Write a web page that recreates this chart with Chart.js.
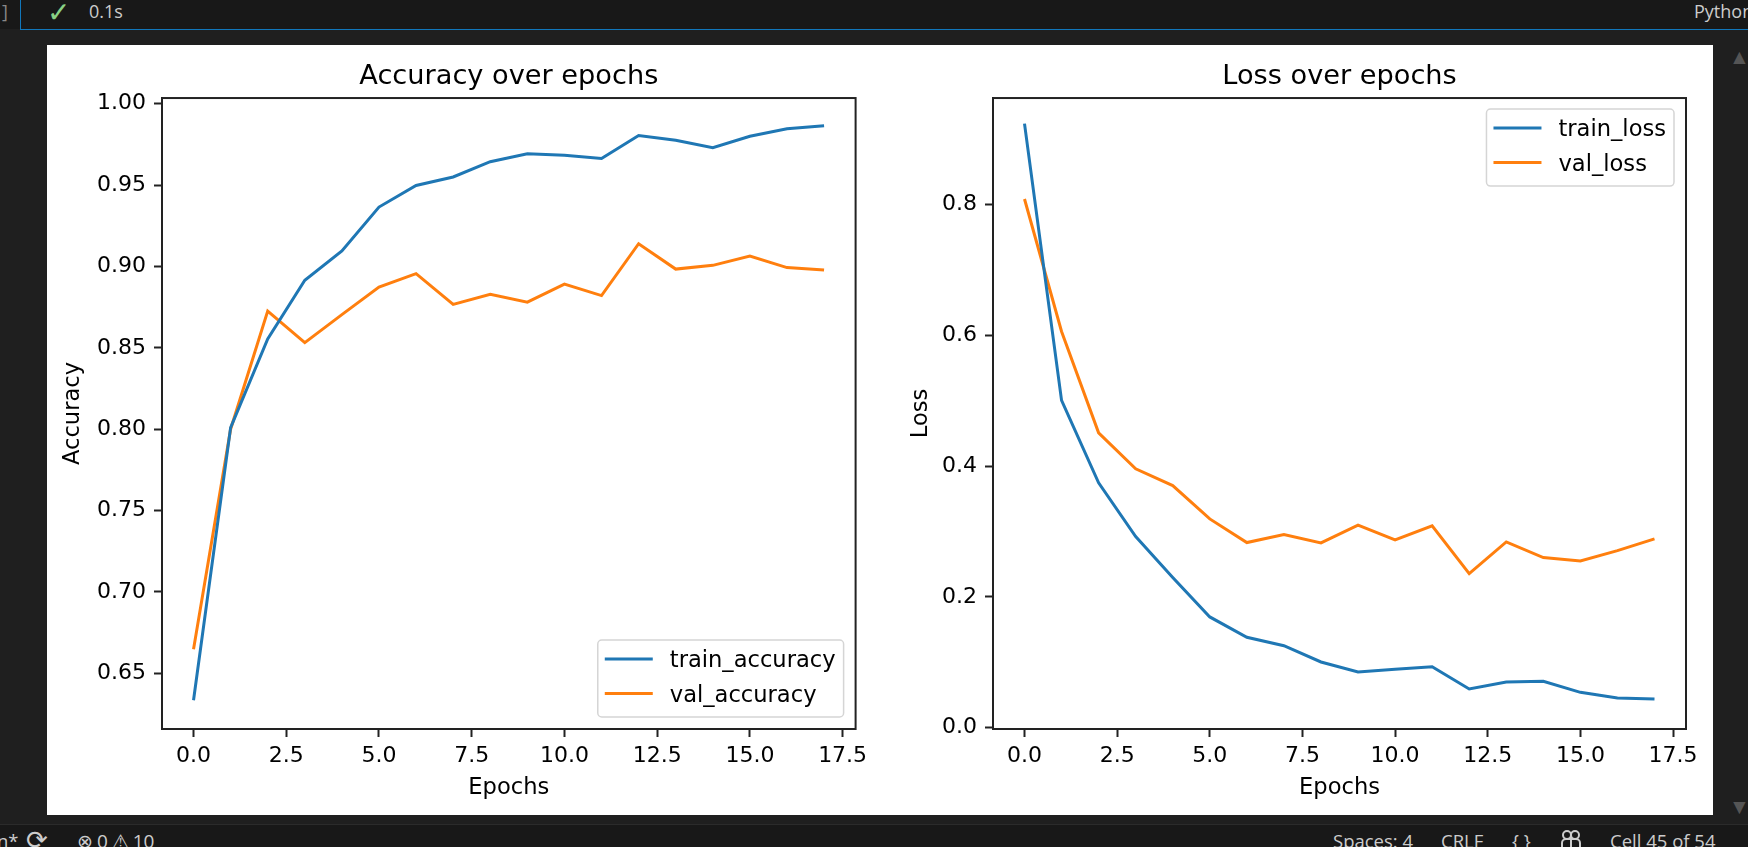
<!DOCTYPE html>
<html>
<head>
<meta charset="utf-8">
<title>Accuracy and loss over epochs</title>
<script src="https://cdn.jsdelivr.net/npm/chart.js@4"></script>
<style>
  html, body { margin: 0; padding: 0; width: 1748px; height: 847px; overflow: hidden; background: #1f1f1f; }
  body { position: relative; font-family: "Open Sans", "Noto Sans", sans-serif; color: #cccccc; font-size: 18.5px; }
  .abs { position: absolute; white-space: nowrap; }
  #topbar { left: 0; top: 0; width: 1748px; height: 29px; background: #181818; }
  #cellLine { left: 20px; top: 0; width: 1728px; height: 29px; border-left: 1px solid #1177bb; border-bottom: 1px solid #1177bb; box-sizing: content-box; }
  #statusbar { left: 0; top: 824px; width: 1748px; height: 23px; background: #181818; border-top: 1px solid #2b2b2b; }
  #panel { left: 47px; top: 45px; width: 1666px; height: 770px; background: #fff; }
  canvas { position: absolute; top: 45px; width: 833px; height: 770px; filter: blur(0.4px); }
  #accChart { left: 47px; }
  #lossChart { left: 880px; }
  .arrow { color: #555; font-size: 21px; left: 1729px; }
  .top { top: -1px; font-size: 18px; }
  .status { top: 828px; }
</style>
</head>
<body>
<div class="abs" id="topbar"></div>
<div class="abs" id="cellLine"></div>
<div class="abs top" style="left:2px;color:#888">]</div>
<div class="abs" style="left:47px;top:-8px;color:#89d185;font-size:28px;font-weight:300">&#10003;</div>
<div class="abs top" style="left:89px">0.1s</div>
<div class="abs top" style="left:1694px">Python</div>
<div class="abs" id="panel"></div>
<canvas id="accChart" width="833" height="770"></canvas>
<canvas id="lossChart" width="833" height="770"></canvas>
<div class="abs arrow" style="top:42px">&#9650;</div>
<div class="abs arrow" style="top:792px">&#9660;</div>
<div class="abs" id="statusbar"></div>
<div class="abs status" style="left:-3px">n*</div>
<div class="abs" style="left:26px;top:821px;font-size:26px">&#10227;</div>
<div class="abs status" style="left:77px;word-spacing:-1px;font-size:19px">&#8855;&nbsp;0&nbsp;&#9888;&nbsp;10</div>
<div class="abs status" style="left:1333px">Spaces: 4</div>
<div class="abs status" style="left:1441px">CRLF</div>
<div class="abs status" style="left:1512px">{ }</div>
<svg class="abs" style="left:1559px;top:829px" width="24" height="20" viewBox="0 0 24 20" fill="none" stroke="#cccccc" stroke-width="2">
  <circle cx="8" cy="6" r="4"/><circle cx="16" cy="6" r="4"/><rect x="3" y="10" width="18" height="12" rx="4"/><path d="M12 10v10"/>
</svg>
<div class="abs status" style="left:1610px">Cell 45 of 54</div>

<script>
const epochs = [0, 1, 2, 3, 4, 5, 6, 7, 8, 9, 10, 11, 12, 13, 14, 15, 16, 17];

const trainAccuracy = [0.6335, 0.801, 0.8555, 0.8915, 0.9095, 0.9365, 0.9498, 0.955, 0.9644, 0.9693, 0.9684, 0.9664, 0.9805, 0.9775, 0.973, 0.98, 0.9846, 0.9865];
const valAccuracy = [0.6648, 0.80, 0.8726, 0.8532, 0.8704, 0.8873, 0.8956, 0.8767, 0.8829, 0.8781, 0.8892, 0.8821, 0.914, 0.8984, 0.9007, 0.9064, 0.8993, 0.8978];
const trainLoss = [0.9239, 0.5005, 0.3745, 0.2923, 0.2296, 0.1694, 0.1383, 0.1254, 0.1005, 0.0852, 0.0893, 0.0933, 0.0592, 0.0699, 0.0709, 0.0541, 0.0454, 0.0439];
const valLoss = [0.8086, 0.606, 0.451, 0.3959, 0.3703, 0.3193, 0.2831, 0.2953, 0.2826, 0.3097, 0.2871, 0.3087, 0.2357, 0.2841, 0.2602, 0.255, 0.2708, 0.2887];

const xTicks = [0, 2.5, 5, 7.5, 10, 12.5, 15, 17.5];
const accuracyTicks = [0.65, 0.70, 0.75, 0.80, 0.85, 0.90, 0.95, 1.00];
const lossTicks = [0, 0.2, 0.4, 0.6, 0.8];

const BLUE = '#1f77b4';
const ORANGE = '#ff7f0e';
const FONT = 'DejaVu Sans';
const TICK_SIZE = 22;
const LABEL_SIZE = 22.6;

// top and right spines, plus the framed matplotlib style legend
const framePlugin = {
  id: 'frame',
  afterDraw(chart, args, opts) {
    const { ctx, chartArea: a } = chart;
    ctx.save();
    ctx.strokeStyle = '#222';
    ctx.lineWidth = 2;
    ctx.strokeRect(a.left, a.top, a.right - a.left, a.bottom - a.top);

    // legend box
    const sets = chart.data.datasets;
    ctx.font = LABEL_SIZE + 'px "' + FONT + '"';
    const textW = Math.max(...sets.map(d => ctx.measureText(d.label).width));
    const w = 7 + 48 + 17 + textW + 8;
    const h = 77;
    const x = a.right - 12 - w;
    const y = opts.corner === 'lower right' ? a.bottom - 12 - h : a.top + 11;
    ctx.beginPath();
    ctx.roundRect(x, y, w, h, 4);
    ctx.fillStyle = 'rgba(255,255,255,0.8)';
    ctx.fill();
    ctx.strokeStyle = '#d5d5d5';
    ctx.lineWidth = 1.5;
    ctx.stroke();

    sets.forEach((d, i) => {
      const rowY = y + 19 + i * 34.5;
      ctx.strokeStyle = d.borderColor;
      ctx.lineWidth = 3;
      ctx.beginPath();
      ctx.moveTo(x + 7, rowY);
      ctx.lineTo(x + 55, rowY);
      ctx.stroke();
      ctx.fillStyle = '#000';
      ctx.textBaseline = 'middle';
      ctx.fillText(d.label, x + 72, rowY + 2.5);
    });
    ctx.restore();
  }
};

function points(values) {
  return values.map((v, i) => ({ x: epochs[i], y: v }));
}

function lineSet(label, values, color) {
  return {
    label: label,
    data: points(values),
    borderColor: color,
    borderWidth: 3,
    pointRadius: 0,
    tension: 0,
    fill: false
  };
}

function makeChart(id, cfg) {
  return new Chart(document.getElementById(id), {
    type: 'line',
    data: { datasets: cfg.datasets },
    plugins: [framePlugin],
    options: {
      responsive: false,
      animation: false,
      layout: { padding: { left: 0, top: 0, right: cfg.rightPad, bottom: 0 } },
      plugins: {
        legend: { display: false },
        tooltip: { enabled: false },
        frame: { corner: cfg.corner },
        title: {
          display: true,
          text: cfg.title,
          fullSize: false,
          color: '#000',
          font: { family: FONT, size: 27.2, weight: 'normal' },
          padding: { top: 15.7, bottom: 4.7 }
        }
      },
      scales: {
        x: {
          type: 'linear',
          min: -0.85,
          max: 17.85,
          afterBuildTicks: s => { s.ticks = xTicks.map(v => ({ value: v })); },
          afterFit: s => { s.height = 86; },
          grid: { drawOnChartArea: false, tickColor: '#222', tickLength: 8, tickWidth: 2 },
          border: { color: '#222', width: 2 },
          ticks: {
            color: '#000',
            padding: 6,
            maxRotation: 0,
            autoSkip: false,
            font: { family: FONT, size: TICK_SIZE },
            callback: v => v.toFixed(1)
          },
          title: {
            display: true,
            text: 'Epochs',
            color: '#000',
            font: { family: FONT, size: LABEL_SIZE },
            padding: { top: 0, bottom: 13 }
          }
        },
        y: {
          min: cfg.yMin,
          max: cfg.yMax,
          afterBuildTicks: s => { s.ticks = cfg.yTicks.map(v => ({ value: v })); },
          afterFit: s => { s.width = cfg.axisWidth; },
          grid: { drawOnChartArea: false, tickColor: '#222', tickLength: 8, tickWidth: 2 },
          border: { color: '#222', width: 2 },
          ticks: {
            color: '#000',
            padding: 8,
            autoSkip: false,
            font: { family: FONT, size: TICK_SIZE },
            callback: v => v.toFixed(cfg.yDecimals)
          },
          title: {
            display: true,
            text: cfg.yTitle,
            color: '#000',
            font: { family: FONT, size: LABEL_SIZE },
            padding: { top: cfg.yTitlePad, bottom: 0 }
          }
        }
      }
    }
  });
}

makeChart('accChart', {
  title: 'Accuracy over epochs',
  yTitle: 'Accuracy',
  datasets: [lineSet('train_accuracy', trainAccuracy, BLUE), lineSet('val_accuracy', valAccuracy, ORANGE)],
  yMin: 0.6158,
  yMax: 1.0035,
  yTicks: accuracyTicks,
  yDecimals: 2,
  axisWidth: 115,
  rightPad: 24.4,
  yTitlePad: 12.5,
  corner: 'lower right'
});

makeChart('lossChart', {
  title: 'Loss over epochs',
  yTitle: 'Loss',
  datasets: [lineSet('train_loss', trainLoss, BLUE), lineSet('val_loss', valLoss, ORANGE)],
  yMin: -0.002,
  yMax: 0.963,
  yTicks: lossTicks,
  yDecimals: 1,
  axisWidth: 113,
  rightPad: 27,
  yTitlePad: 28,
  corner: 'upper right'
});
</script>
</body>
</html>
